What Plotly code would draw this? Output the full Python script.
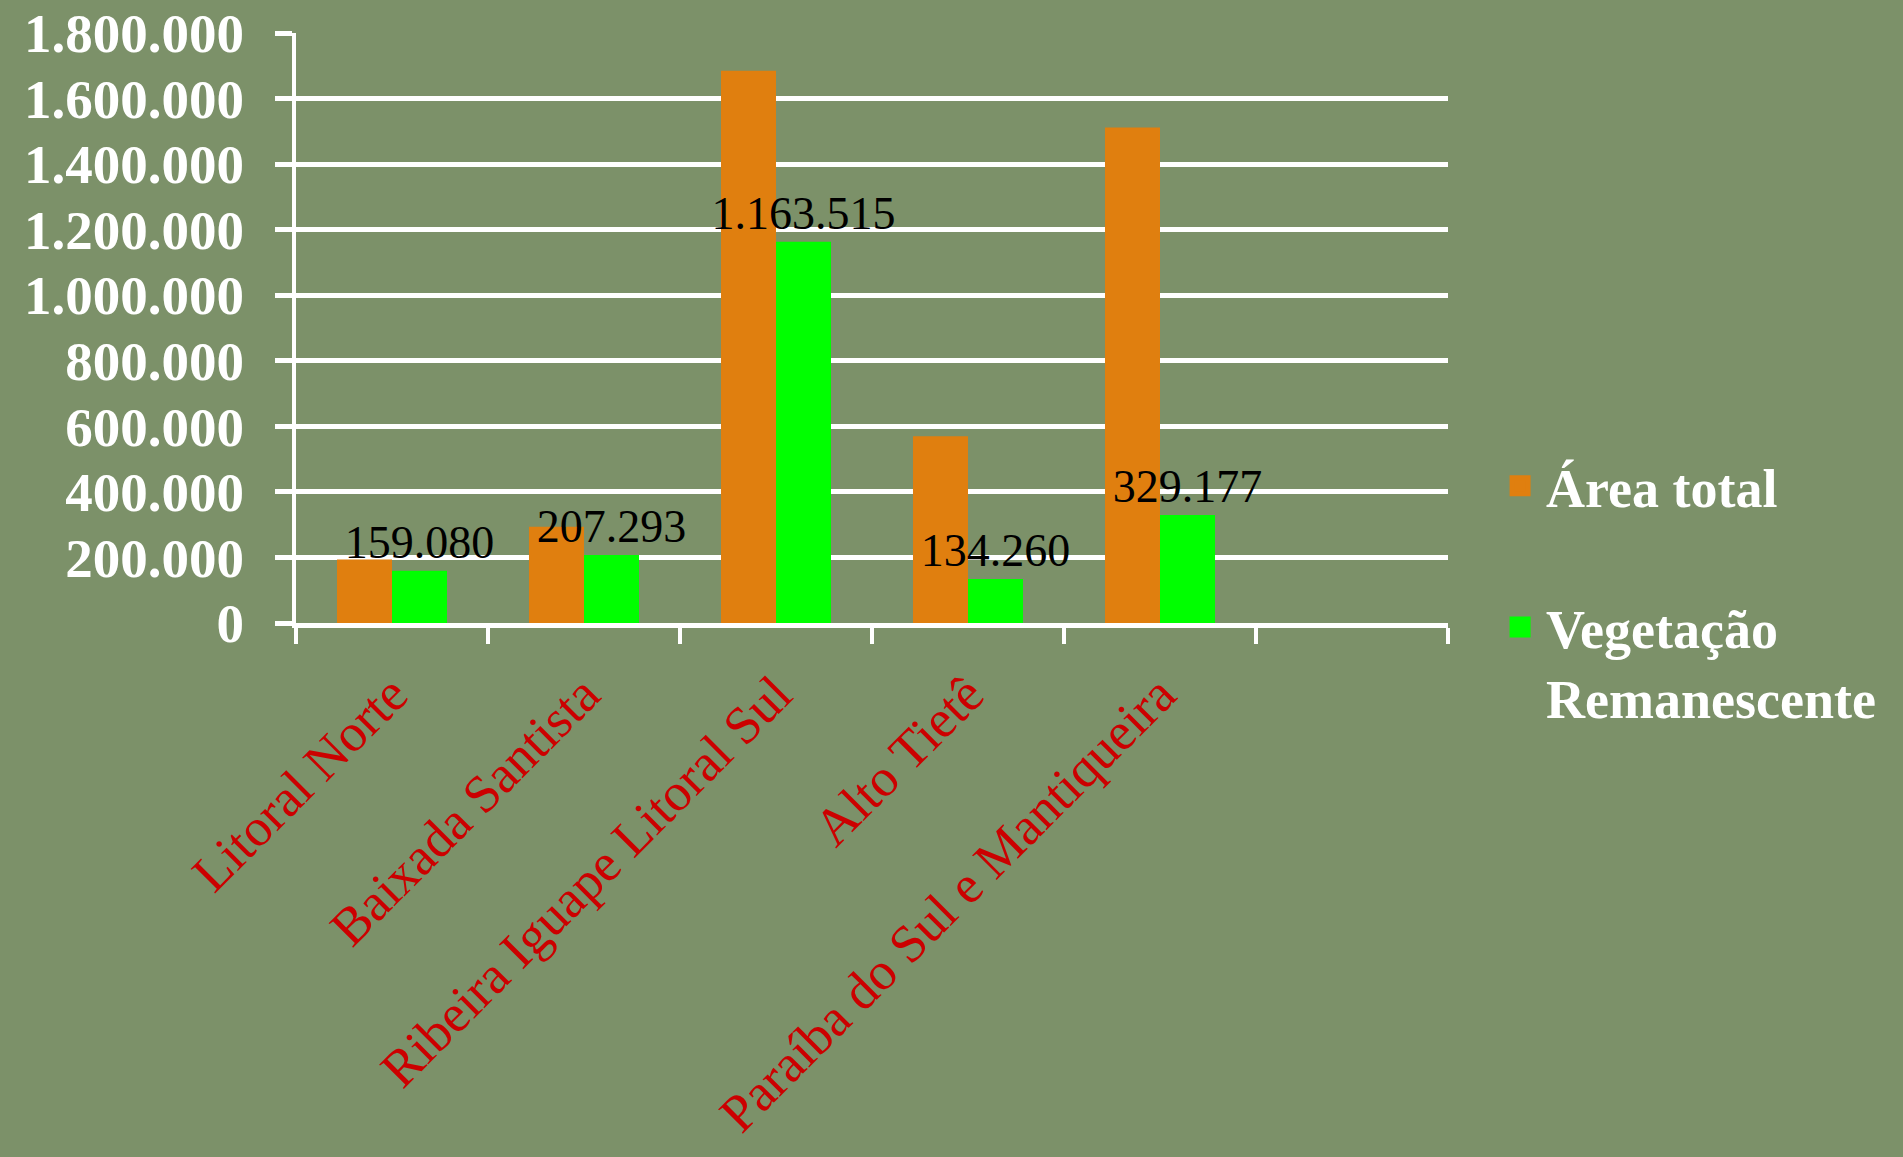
import plotly.graph_objects as go

categories = ["Litoral Norte", "Baixada Santista", "Ribeira Iguape Litoral Sul",
              "Alto Tietê", "Paraíba do Sul e Mantiqueira", " "]
area_total = [194000, 294000, 1685000, 570000, 1512000]
vegetacao = [159080, 207293, 1163515, 134260, 329177]
y_ticks = [0, 200000, 400000, 600000, 800000, 1000000, 1200000, 1400000, 1600000, 1800000]
series_names = ["Área total", "Vegetação<br>Remanescente"]
colors = ["#E07F0F", "#00FF00"]


def fmt(v):
    return f"{v:,}".replace(",", ".")


veg_text = [fmt(v) for v in vegetacao]
tick_text = [fmt(v) for v in y_ticks]

fig = go.Figure()
fig.add_trace(go.Bar(x=categories[:5], y=area_total, marker_color=colors[0],
                     marker_line_width=0, showlegend=False, name=series_names[0]))
fig.add_trace(go.Bar(x=categories[:5], y=vegetacao, marker_color=colors[1],
                     marker_line_width=0, showlegend=False, name=series_names[1],
                     text=veg_text, textposition="outside", constraintext="none",
                     textangle=0, cliponaxis=False,
                     textfont=dict(family="Liberation Serif", size=46, color="black")))
# legend entries
for i, nm in enumerate(series_names):
    fig.add_trace(go.Scatter(x=[None], y=[None], mode="markers", name=nm,
                             legendgroup=f"g{i}",
                             marker=dict(symbol="square", size=16, color=colors[i],
                                         line=dict(color=colors[i], width=5))))

bg = "#7c9169"
fig.update_layout(
    width=1903, height=1157,
    paper_bgcolor=bg, plot_bgcolor=bg,
    margin=dict(l=296, r=455, t=33, b=534, autoexpand=False),
    barmode="group", bargap=0.427, bargroupgap=0,
    font=dict(family="Liberation Serif", color="white"),
    legend=dict(x=1.04, xanchor="left", y=0.303, yanchor="top", valign="top",
                itemwidth=42,
                font=dict(family="Liberation Serif", size=54, color="white", weight="bold"),
                tracegroupgap=68, bgcolor="rgba(0,0,0,0)"),
    showlegend=True,
)
fig.update_xaxes(
    type="category", categoryorder="array", categoryarray=categories,
    range=[-0.5, 5.5], showline=True, linecolor="white", linewidth=5,
    ticks="outside", tickson="boundaries", ticklen=16, tickwidth=4, tickcolor="white",
    tickangle=-45, automargin=False, showgrid=False,
    tickfont=dict(family="Liberation Serif", size=53, color="#CC0000"),
    ticklabelstandoff=14,
)
fig.update_yaxes(
    range=[0, 1800000], tickvals=y_ticks, ticktext=tick_text,
    showgrid=True, gridcolor="white", gridwidth=5, zeroline=False,
    showline=True, linecolor="white", linewidth=4,
    ticks="outside", ticklen=17, tickwidth=5, tickcolor="white",
    automargin=False, ticklabelstandoff=20,
    tickfont=dict(family="Liberation Serif", size=55, color="white", weight="bold"),
)

fig.write_html("out.html", config={"displayModeBar": False},
               post_script="document.body.style.margin='0px';")
